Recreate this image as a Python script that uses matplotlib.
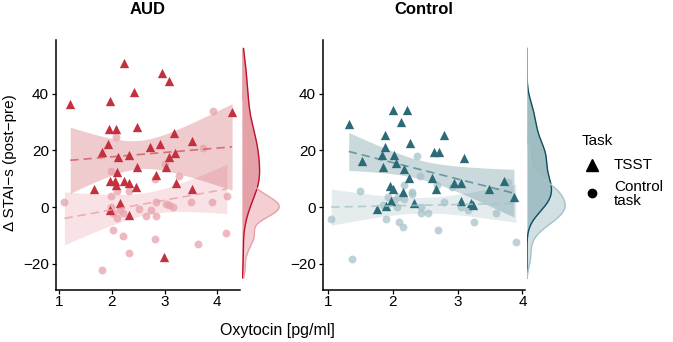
import numpy as np
import matplotlib
matplotlib.use("Agg")
from matplotlib import pyplot
from matplotlib.lines import Line2D

pyplot.rcParams['font.family'] = ['Liberation Sans', 'DejaVu Sans']

# AUD group
aud_tsst_x = [2.23, 2.95, 3.09, 2.42, 1.21, 1.97, 1.94, 2.07, 2.48, 4.28, 3.17, 1.92, 3.52,
              2.72, 2.91, 1.82, 2.11, 2.33, 3.19, 3.09, 2.48, 3.02, 2.10, 2.84, 1.96, 2.06,
              2.08, 2.23, 2.32, 2.45, 3.22, 1.67, 3.52, 2.16, 1.96, 2.33, 2.98]
aud_tsst_y = [51.0, 47.5, 44.5, 40.5, 36.3, 37.4, 27.5, 27.5, 28.4, 33.4, 26.3, 22.2, 23.4,
              21.3, 22.4, 19.4, 17.6, 18.3, 19.0, 17.8, 14.3, 14.3, 12.3, 11.3, 9.3, 9.3,
              7.8, 9.3, 8.4, 7.2, 8.4, 6.3, 6.3, 1.5, -1.1, -2.8, -17.8]
aud_ctrl_x = [1.10, 1.98, 1.98, 2.09, 2.33, 2.82, 3.27, 3.72, 2.83, 3.02, 3.08, 3.16, 3.50,
              3.89, 4.18, 2.52, 2.74, 2.64, 2.84, 1.98, 2.02, 2.09, 2.21, 2.16, 2.02, 2.22,
              2.81, 3.63, 4.16, 2.33, 1.82, 3.91, 2.08, 3.01]
aud_ctrl_y = [1.9, 12.9, 3.9, 5.8, 5.8, 9.8, 11.0, 21.0, 1.9, 1.0, 0.7, 0.0, 1.9,
              1.9, 3.9, -0.7, -1.1, -3.2, -3.2, -0.1, -2.2, -4.0, -2.2, -1.1, -8.1, -10.3,
              -11.1, -13.2, -9.2, -16.3, -22.2, 34.1, 24.9, 15.2]

# Control group
con_tsst_x = [2.00, 2.22, 2.12, 1.32, 1.88, 2.79, 2.26, 1.88, 2.63, 2.71, 1.84, 2.02, 1.52,
              3.10, 1.85, 2.05, 2.17, 2.25, 2.61, 2.66, 2.94, 3.06, 3.49, 3.72, 3.87, 1.96,
              2.00, 2.16, 1.97, 1.90, 1.76, 2.32, 3.05, 3.20, 3.24]
con_tsst_y = [34.4, 34.4, 30.2, 29.4, 25.5, 25.5, 22.5, 21.3, 19.5, 19.5, 18.4, 18.4, 16.4,
              17.3, 14.3, 15.5, 13.4, 10.4, 10.4, 6.4, 8.4, 8.4, 6.4, 9.3, 3.6, 7.5,
              6.5, 5.4, 2.2, 0.4, -0.8, 1.3, 2.2, 1.3, 0.8]
con_ctrl_x = [1.05, 1.37, 1.50, 1.89, 1.85, 1.93, 2.06, 2.10, 2.15, 2.18, 2.17, 2.30, 2.30,
              2.43, 2.43, 2.54, 2.42, 2.70, 2.79, 2.68, 2.92, 3.05, 3.16, 3.26, 3.59, 3.90,
              3.78, 2.37, 2.02, 2.08]
con_ctrl_y = [-4.2, -18.2, 5.8, -4.2, 0.7, 3.7, -0.1, -5.2, -7.2, 7.8, 2.7, 5.4, 4.6,
              -0.1, -2.0, -2.0, 11.0, -8.1, 1.9, 7.8, 7.0, -0.1, -1.1, -5.2, -2.2, -12.3,
              9.0, 18.1, 2.5, 3.5]

titles = ["AUD", "Control"]
tsst_colors = ["#c3303e", "#2a6b77"]
ctrl_colors = ["#e8a1aa", "#a6c3c9"]
dens_line_tsst = ["#c0102a", "#0e4f5c"]


def t_quantile(df):
    z = 1.959964
    return z + (z**3 + z) / (4 * df) + (5 * z**5 + 16 * z**3 + 3 * z) / (96 * df**2)


def lm_band(x, y):
    x = np.asarray(x)
    y = np.asarray(y)
    n = len(x)
    b, a = np.polyfit(x, y, 1)
    grid = np.linspace(x.min(), x.max(), 80)
    fit = a + b * grid
    resid = y - (a + b * x)
    s = np.sqrt(np.sum(resid**2) / (n - 2))
    se = s * np.sqrt(1 / n + (grid - x.mean())**2 / np.sum((x - x.mean())**2))
    t = t_quantile(n - 2)
    return grid, fit, fit - t * se, fit + t * se


def kde(y, grid):
    y = np.asarray(y)
    n = len(y)
    iqr = np.subtract(*np.percentile(y, [75, 25]))
    bw = 0.9 * min(np.std(y, ddof=1), iqr / 1.34) * n ** -0.2
    d = np.exp(-0.5 * ((grid[:, None] - y[None, :]) / bw) ** 2).sum(axis=1)
    return d / (n * bw * np.sqrt(2 * np.pi))


fig = pyplot.figure(figsize=(6.73, 3.42), dpi=100)
W, H = 673.0, 342.0

main_px = [(56, 240), (323, 525)]
marg_px = [(242, 281), (527, 567)]
xlims = [(0.94, 4.43), (0.923, 4.04)]
top_px, bot_px = 40, 289.5
ylim = (-29.1, 59.0)

groups = [(aud_tsst_x, aud_tsst_y, aud_ctrl_x, aud_ctrl_y),
          (con_tsst_x, con_tsst_y, con_ctrl_x, con_ctrl_y)]

ygrid = np.linspace(-25, 56, 300)

for i in range(2):
    tx, ty, cx, cy = groups[i]
    l, r = main_px[i]
    ax = fig.add_axes([l / W, 1 - bot_px / H, (r - l) / W, (bot_px - top_px) / H])
    for xs, ys, col, a_band in [(cx, cy, ctrl_colors[i], 0.3),
                                (tx, ty, tsst_colors[i], 0.25)]:
        g, f, lo, hi = lm_band(xs, ys)
        ax.fill_between(g, lo, hi, color=col, alpha=a_band, lw=0, zorder=1)
    ax.scatter(cx, cy, s=32, marker='o', color=ctrl_colors[i], alpha=0.75, lw=0, zorder=2)
    ax.scatter(tx, ty, s=45, marker='^', color=tsst_colors[i], lw=0, zorder=3)
    for xs, ys, col, a_line in [(cx, cy, ctrl_colors[i], 0.8), (tx, ty, tsst_colors[i], 0.6)]:
        g, f, lo, hi = lm_band(xs, ys)
        ax.plot(g, f, ls=(0, (5, 3)), color=col, alpha=a_line, lw=1.2, zorder=4)
    ax.set_xlim(*xlims[i])
    ax.set_ylim(*ylim)
    ax.set_xticks([1, 2, 3, 4])
    ax.set_yticks([-20, 0, 20, 40])
    ax.spines['top'].set_visible(False)
    ax.spines['right'].set_visible(False)
    ax.spines['left'].set_linewidth(1.1)
    ax.spines['bottom'].set_linewidth(1.1)
    ax.tick_params(labelsize=11, length=3, width=0.9, colors='black')
    ax.tick_params(axis='x', pad=1)
    ax.tick_params(axis='y', pad=2)
    fig.text((l + r) / 2 / W, 1 - 9 / H, titles[i], fontsize=12, fontweight='bold',
             ha='center', va='center')

    ml, mr = marg_px[i]
    axm = fig.add_axes([ml / W, 1 - bot_px / H, (mr - ml) / W, (bot_px - top_px) / H])
    dt = kde(ty, ygrid)
    dc = kde(cy, ygrid)
    axm.fill_betweenx(ygrid, 0, dt, color=tsst_colors[i], alpha=0.45, lw=0)
    axm.plot(dt, ygrid, color=dens_line_tsst[i], lw=1.0)
    axm.fill_betweenx(ygrid, 0, dc, color=ctrl_colors[i], alpha=0.5, lw=0)
    axm.plot(dc, ygrid, color=ctrl_colors[i], lw=1.0)
    axm.set_ylim(*ylim)
    axm.set_xlim(0, max(dt.max(), dc.max()) * 1.05)
    axm.axis('off')

fig.text(10 / W, 1 - 163 / H, "Δ STAI\u2212s (post\u2212pre)", rotation=90, fontsize=11,
         ha='center', va='center')
fig.text(277 / W, 1 - 331 / H, "Oxytocin [pg/ml]", fontsize=11.5, ha='center', va='center')

# legend
fig.text(582 / W, 1 - 141 / H, "Task", fontsize=11, ha='left', va='center')
fig.add_artist(Line2D([592 / W], [1 - 165 / H], marker='^', color='black', ls='',
                      markersize=8, transform=fig.transFigure))
fig.add_artist(Line2D([592 / W], [1 - 193 / H], marker='o', color='black', ls='',
                      markersize=6, transform=fig.transFigure))
fig.text(614 / W, 1 - 165 / H, "TSST", fontsize=11, ha='left', va='center')
fig.text(614 / W, 1 - 194 / H, "Control\ntask", fontsize=11, ha='left', va='center',
         linespacing=0.95)

fig.savefig("out.png", dpi=100)
